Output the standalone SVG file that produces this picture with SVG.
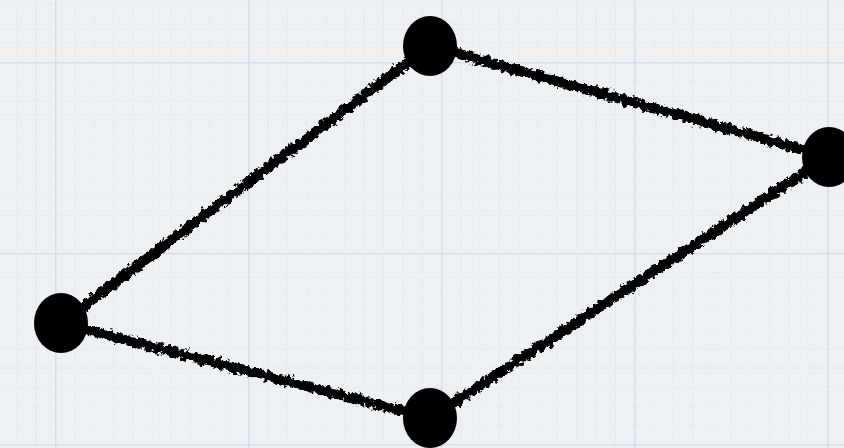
<svg xmlns="http://www.w3.org/2000/svg" width="844" height="448" viewBox="0 0 844 448">
<defs>
<pattern id="minor" x="55" y="62" width="19.3" height="19.1" patternUnits="userSpaceOnUse">
<path d="M0 0V19.1M0 0H19.3" fill="none" stroke="#e3e6ea" stroke-width="1"/>
</pattern>
<pattern id="major" x="55" y="62" width="193" height="191" patternUnits="userSpaceOnUse">
<path d="M0.5 0V191M0 0.5H193" fill="none" stroke="#d3e0ea" stroke-width="2"/>
</pattern>
<filter id="rough" x="-10%" y="-10%" width="120%" height="120%">
<feTurbulence type="fractalNoise" baseFrequency="0.22" numOctaves="3" seed="5" result="n"/>
<feDisplacementMap in="SourceGraphic" in2="n" scale="9" xChannelSelector="R" yChannelSelector="G"/>
</filter>
</defs>
<style>
.edge{fill:none;stroke:#000;stroke-width:10;stroke-linecap:round}
.node{fill:#000}
</style>
<rect width="844" height="448" fill="#eef0f2"/>
<rect width="844" height="448" fill="url(#minor)"/>
<rect width="844" height="448" fill="url(#major)"/>
<g id="connectors" filter="url(#rough)">
<line class="edge" x1="430" y1="46" x2="829" y2="157"/>
<line class="edge" x1="829" y1="157" x2="430" y2="418"/>
<line class="edge" x1="430" y1="418" x2="61" y2="323"/>
<line class="edge" x1="61" y1="323" x2="430" y2="46"/>
</g>
<g id="node-top"><ellipse class="node" cx="430" cy="46" rx="27" ry="30"/></g>
<g id="node-right"><ellipse class="node" cx="829" cy="157" rx="27" ry="30"/></g>
<g id="node-bottom"><ellipse class="node" cx="430" cy="418" rx="27" ry="30"/></g>
<g id="node-left"><ellipse class="node" cx="61" cy="323" rx="27" ry="30"/></g>
</svg>
